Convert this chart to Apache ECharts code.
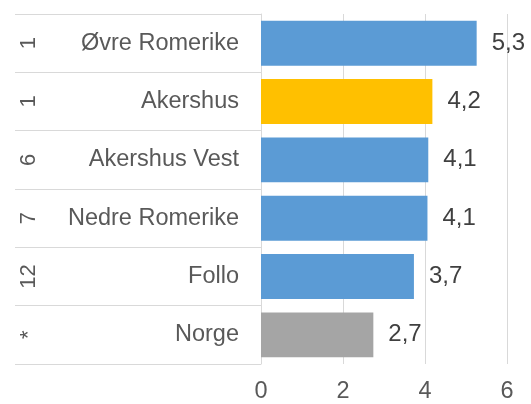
<!DOCTYPE html>
<html>
<head>
<meta charset="utf-8">
<script src="https://cdn.jsdelivr.net/npm/echarts@6/dist/echarts.min.js"></script>
<style>
  html, body { margin: 0; padding: 0; background: #fff; }
  #chart { width: 531px; height: 404px; }
</style>
</head>
<body>
<div id="chart"></div>
<script>
// data
const regions  = ['Øvre Romerike', 'Akershus', 'Akershus Vest', 'Nedre Romerike', 'Follo', 'Norge'];
const ranks    = ['1', '1', '6', '7', '12', '*'];
const values   = [5.26, 4.18, 4.08, 4.06, 3.73, 2.74];
const barColors = ['#5b9bd5', '#ffc000', '#5b9bd5', '#5b9bd5', '#5b9bd5', '#a5a5a5'];
const xTicks   = [0, 2, 4, 6];

const FONT = '"Liberation Sans", Arial, sans-serif';
const lineGrey = '#d9d9d9';

const chart = echarts.init(document.getElementById('chart'));
chart.setOption({
  animation: false,
  grid: { left: 261, right: 24, top: 14, bottom: 40 },
  xAxis: {
    type: 'value',
    min: xTicks[0],
    max: xTicks[xTicks.length - 1],
    interval: 2,
    axisLine: { show: false },
    axisTick: { show: false },
    splitLine: { show: true, lineStyle: { color: lineGrey, width: 1 } },
    axisLabel: { color: '#595959', fontSize: 23.5, fontFamily: FONT, margin: 16 }
  },
  yAxis: [{
    type: 'category',
    data: regions,
    inverse: true,
    // tabell-linjer: akselinje + lange tick-streker mot venstre
    axisLine: { show: true, lineStyle: { color: lineGrey, width: 1 } },
    axisTick: { show: true, length: 246, lineStyle: { color: lineGrey, width: 1 } },
    axisLabel: { color: '#595959', fontSize: 23.5, fontFamily: FONT, margin: 22 }
  }, {
    type: 'category',
    data: ranks,
    inverse: true,
    position: 'left',
    offset: 0,
    axisLine: { show: false },
    axisTick: { show: false },
    axisLabel: {
      color: '#595959', fontSize: 22, fontFamily: FONT,
      rotate: 90, align: 'center', verticalAlign: 'middle', margin: 232
    }
  }],
  series: [{
    type: 'bar',
    yAxisIndex: 0,
    barCategoryGap: '23%',
    data: values.map((v, i) => ({ value: v, itemStyle: { color: barColors[i] } })),
    label: {
      show: true,
      position: 'right',
      distance: 15,
      color: '#404040',
      fontSize: 24,
      fontFamily: FONT,
      formatter: p => p.value.toFixed(1).replace('.', ',')
    }
  }]
});
</script>
</body>
</html>
